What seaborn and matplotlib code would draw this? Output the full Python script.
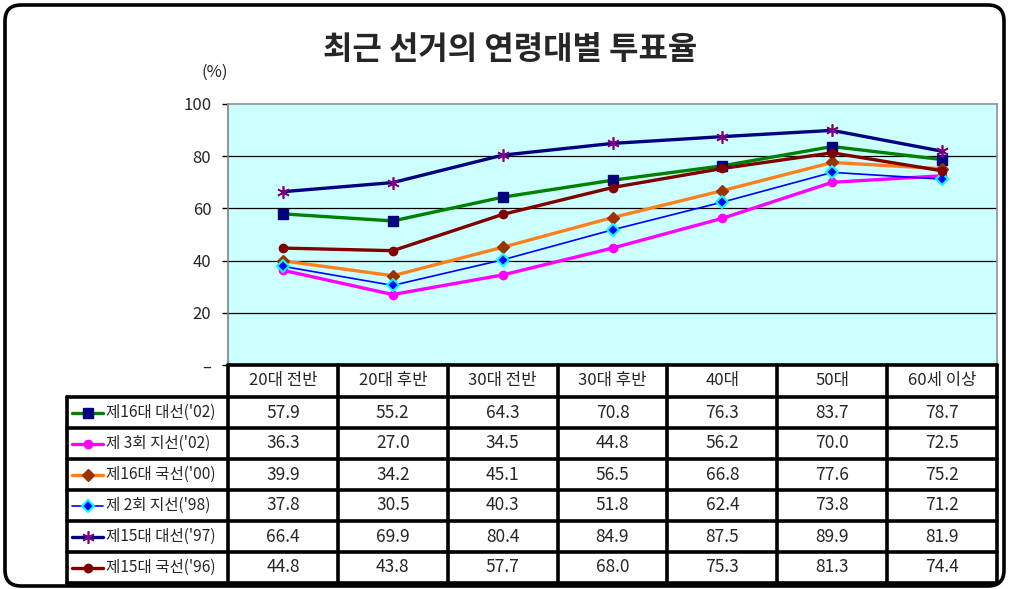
import matplotlib
matplotlib.use("Agg")
import matplotlib.pyplot as plt
import seaborn as sns
import pandas as pd
import numpy as np
from matplotlib.patches import FancyBboxPatch

# ---------------- data ----------------
title = "최근 선거의 연령대별 투표율"
unit_label = "(%)"
categories = ["20대 전반", "20대 후반", "30대 전반", "30대 후반", "40대", "50대", "60세 이상"]
series_names = ["제16대 대선('02)", "제 3회 지선('02)", "제16대 국선('00)",
                "제 2회 지선('98)", "제15대 대선('97)", "제15대 국선('96)"]
pres16_02 = [57.9, 55.2, 64.3, 70.8, 76.3, 83.7, 78.7]
local3_02 = [36.3, 27.0, 34.5, 44.8, 56.2, 70.0, 72.5]
nat16_00 = [39.9, 34.2, 45.1, 56.5, 66.8, 77.6, 75.2]
local2_98 = [37.8, 30.5, 40.3, 51.8, 62.4, 73.8, 71.2]
pres15_97 = [66.4, 69.9, 80.4, 84.9, 87.5, 89.9, 81.9]
nat15_96 = [44.8, 43.8, 57.7, 68.0, 75.3, 81.3, 74.4]
series_values = [pres16_02, local3_02, nat16_00, local2_98, pres15_97, nat15_96]
y_ticks = [0, 20, 40, 60, 80, 100]
y_tick_labels = ["–", "20", "40", "60", "80", "100"]

# ---------------- styles ----------------
styles = [
    dict(color="#008000", lw=2.4, marker="s", ms=6.5, mfc="#000080", mec="#000080", mew=1),
    dict(color="#FF00FF", lw=2.4, marker="o", ms=6, mfc="#FF00FF", mec="#FF00FF", mew=1),
    dict(color="#FF7F1E", lw=2.4, marker="D", ms=6.5, mfc="#993300", mec="#993300", mew=1),
    dict(color="#0000FF", lw=1.2, marker="D", ms=6.5, mfc="#0000FF", mec="#00FFFF", mew=1.5),
    dict(color="#000080", lw=2.4, marker=(6, 2, 0), ms=9, mfc="#800080", mec="#800080", mew=1.2),
    dict(color="#800000", lw=2.4, marker="o", ms=6, mfc="#800000", mec="#800000", mew=1),
]

sns.set_style("white")
plt.rcParams['font.family'] = ['Noto Sans CJK KR', 'DejaVu Sans']

W, H = 1010, 589
fig = plt.figure(figsize=(W / 100, H / 100), dpi=100)

# plot area in pixel coordinates
px_l, px_r, px_t, px_b = 228, 997, 104, 365
ax = fig.add_axes([px_l / W, 1 - px_b / H, (px_r - px_l) / W, (px_b - px_t) / H])
ax.set_facecolor("#CCFFFF")

xpos = np.arange(len(categories))
for name, vals, st in zip(series_names, series_values, styles):
    df = pd.DataFrame({"x": xpos, "y": vals})
    sns.lineplot(data=df, x="x", y="y", ax=ax, sort=False,
                 color=st["color"], linewidth=st["lw"], marker=st["marker"],
                 markersize=st["ms"], markerfacecolor=st["mfc"],
                 markeredgecolor=st["mec"], markeredgewidth=st["mew"], zorder=3)

ax.set_xlim(-0.5, len(categories) - 0.5)
ax.set_ylim(0, 100)
ax.set_yticks(y_ticks)
ax.set_yticklabels(y_tick_labels, fontsize=12)
ax.set_xticks([])
ax.set_xlabel("")
ax.set_ylabel("")
for yv in y_ticks[1:-1]:
    ax.axhline(yv, color="black", lw=0.9, zorder=1)
ax.tick_params(axis="y", length=4, width=1, color="black", pad=8, left=True)
for side in ["top", "right"]:
    ax.spines[side].set_color("#909090")
    ax.spines[side].set_linewidth(1.2)
ax.spines["left"].set_color("#808080")
ax.spines["left"].set_linewidth(1.2)
ax.spines["bottom"].set_visible(False)

# ---------------- overlay (frame, title, table) ----------------
ov = fig.add_axes([0, 0, 1, 1], zorder=5)
ov.set_xlim(0, W)
ov.set_ylim(H, 0)
ov.axis("off")
ov.patch.set_alpha(0)

frame = FancyBboxPatch((5, 5), 999, 581, boxstyle="round,pad=0,rounding_size=16",
                       fill=False, ec="black", lw=2.6)
ov.add_patch(frame)

ov.text(510, 50, title, ha="center", va="center", fontsize=23, fontweight="bold")
ov.text(215, 72, unit_label, ha="center", va="center", fontsize=12)

# table geometry
tab_l = 67
col_w = (px_r - px_l) / len(categories)
head_t, head_b = 365, 397
row_h = (583 - head_b) / len(series_names)
tlw = 2.6

# header
ov.plot([px_l, px_r], [head_t, head_t], color="black", lw=tlw)
for i in range(len(categories) + 1):
    x = px_l + i * col_w
    ov.plot([x, x], [head_t, 583], color="black", lw=tlw)
for i, c in enumerate(categories):
    ov.text(px_l + (i + 0.5) * col_w, (head_t + head_b) / 2, c,
            ha="center", va="center", fontsize=12)

# rows
ov.plot([tab_l, tab_l], [head_b, 583], color="black", lw=tlw)
for r in range(len(series_names) + 1):
    y = head_b + r * row_h
    ov.plot([tab_l, px_r], [y, y], color="black", lw=tlw)

for r, (name, vals, st) in enumerate(zip(series_names, series_values, styles)):
    yc = head_b + (r + 0.5) * row_h
    ov.plot([72, 103], [yc, yc], color=st["color"], lw=st["lw"])
    ov.plot([87.5], [yc], marker=st["marker"], ms=st["ms"], mfc=st["mfc"],
            mec=st["mec"], mew=st["mew"], ls="none")
    ov.text(106, yc, name, ha="left", va="center", fontsize=11.2)
    for i, v in enumerate(vals):
        ov.text(px_l + (i + 0.5) * col_w, yc, f"{v:.1f}",
                ha="center", va="center", fontsize=12.5)

fig.savefig("out.png", dpi=100)
